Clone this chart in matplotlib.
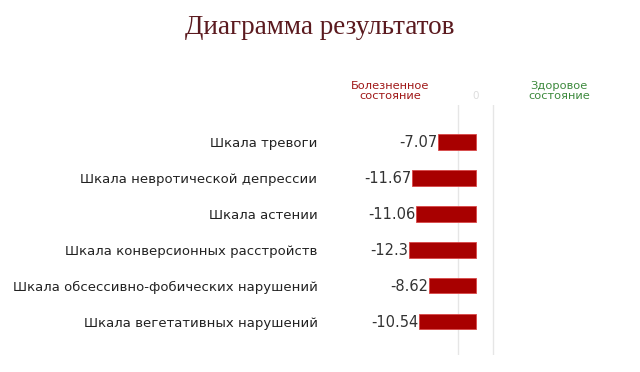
import matplotlib
matplotlib.use("Agg")
import matplotlib.pyplot as plt

# данные со шкал
categories = [
    "Шкала тревоги",
    "Шкала невротической депрессии",
    "Шкала астении",
    "Шкала конверсионных расстройств",
    "Шкала обсессивно-фобических нарушений",
    "Шкала вегетативных нарушений",
]
values = [-7.07, -11.67, -11.06, -12.3, -8.62, -10.54]
value_labels = ["-7.07", "-11.67", "-11.06", "-12.3", "-8.62", "-10.54"]

fig = plt.figure(figsize=(6.4, 3.72), dpi=100)
fig.patch.set_facecolor("white")

# оси: ноль около x=476px
ax = fig.add_axes([330 / 640, 1 - 355 / 372, 290 / 640, 250 / 372])
ypos = list(range(len(categories)))
ax.barh(ypos, values, height=0.42, color="#a80000", edgecolor="#d84848", linewidth=0.6, zorder=3)

ax.set_xlim(-26.8, 26.4)
ax.set_ylim(5.92, -1.03)

# светлые вертикальные линии
ax.axvline(-3.4, color="#e6e6e6", lw=1.0, zorder=1)
ax.axvline(3.1, color="#e6e6e6", lw=1.0, zorder=1)

ax.set_yticks(ypos)
ax.set_yticklabels(categories, fontsize=9.5, color="#222222")
ax.tick_params(axis="y", length=0, pad=9)
ax.set_xticks([])
for s in ax.spines.values():
    s.set_visible(False)

for y, v, lab in zip(ypos, values, value_labels):
    ax.text(v - 0.1, y + 0.02, lab, ha="right", va="center", fontsize=10.5, color="#333333")

# заголовок и подписи
fig.text(0.5, 1 - 27 / 372, "Диаграмма результатов", ha="center", va="center",
         fontsize=19.5, family="Liberation Serif", color="#5b1a1f")
fig.text(390 / 640, 1 - 91 / 372, "Болезненное\nсостояние", ha="center", va="center",
         fontsize=8.2, color="#a01818", linespacing=0.95)
fig.text(559 / 640, 1 - 91 / 372, "Здоровое\nсостояние", ha="center", va="center",
         fontsize=8.2, color="#3d8a3d", linespacing=0.95)
fig.text(476 / 640, 1 - 96 / 372, "0", ha="center", va="center", fontsize=7.5, color="#dddddd")

fig.savefig("out.png", dpi=100, facecolor="white")
